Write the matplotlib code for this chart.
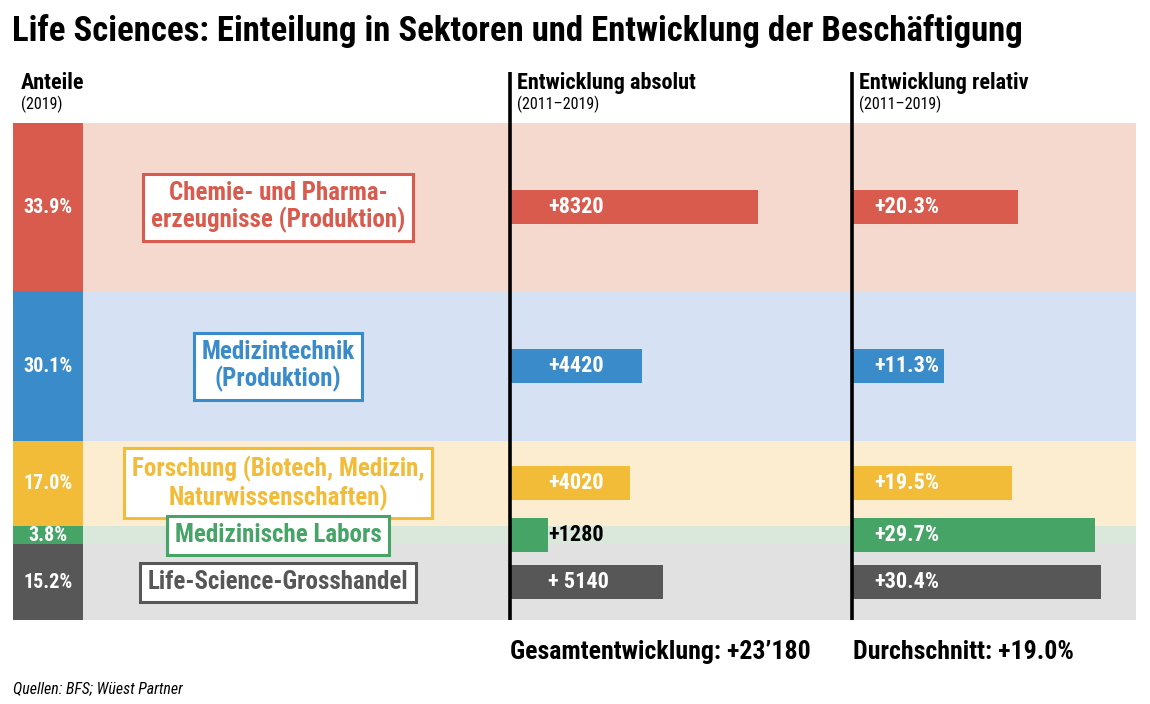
import matplotlib
matplotlib.use("Agg")
import matplotlib.pyplot as plt

plt.rcParams['font.family'] = ['Roboto Condensed', 'Liberation Sans', 'DejaVu Sans']

# ---- data ----
sectors = ["Chemie- und Pharma-\nerzeugnisse (Produktion)",
           "Medizintechnik\n(Produktion)",
           "Forschung (Biotech, Medizin,\nNaturwissenschaften)",
           "Medizinische Labors",
           "Life-Science-Grosshandel"]
shares = [33.9, 30.1, 17.0, 3.8, 15.2]
share_labels = ["33.9%", "30.1%", "17.0%", "3.8%", "15.2%"]
abs_change = [8320, 4420, 4020, 1280, 5140]
abs_labels = ["+8320", "+4420", "+4020", "+1280", "+ 5140"]
rel_change = [20.3, 11.3, 19.5, 29.7, 30.4]
rel_labels = ["+20.3%", "+11.3%", "+19.5%", "+29.7%", "+30.4%"]
total_abs = "Gesamtentwicklung: +23\u2019180"
avg_rel = "Durchschnitt: +19.0%"

colors = ["#D95B4E", "#3A8BC9", "#F2BB38", "#46A466", "#575757"]
bg_colors = ["#F5D9CF", "#D6E2F3", "#FDEDD0", "#DAE8DC", "#E1E1E1"]

W, H = 1150, 704
fig = plt.figure(figsize=(W / 100, H / 100), dpi=100)

top_px, bot_px = 123, 620
def axes_rect(x0, x1):
    return [x0 / W, 1 - bot_px / H, (x1 - x0) / W, (bot_px - top_px) / H]

ax_l = fig.add_axes(axes_rect(13, 510))
ax_a = fig.add_axes(axes_rect(510, 852))
ax_r = fig.add_axes(axes_rect(852, 1136))

# band positions
starts = []
c = 0
for s in shares:
    starts.append(c)
    c += s
centers = [st + s / 2 for st, s in zip(starts, shares)]

bar_h = 34 / ((bot_px - top_px) / 100)  # 34 px in share units

for ax in (ax_l, ax_a, ax_r):
    ax.set_ylim(100, 0)
    for st, s, bc in zip(starts, shares, bg_colors):
        ax.axhspan(st, st + s, color=bc, lw=0, zorder=0)
    for sp in ax.spines.values():
        sp.set_visible(False)
    ax.set_xticks([])
    ax.set_yticks([])
    ax.patch.set_alpha(0)

# left: stacked shares bar
ax_l.set_xlim(0, 497)
ax_l.barh(centers, [70] * len(shares), height=shares, left=0, color=colors, lw=0, zorder=2)
for y, lab in zip(centers, share_labels):
    ax_l.text(35, y, lab, color="white", fontsize=14.5, fontweight="bold",
              ha="center", va="center", zorder=3)
for y, lab, col in zip(centers, sectors, colors):
    ax_l.text(265, y, lab, color=col, fontsize=18, fontweight="bold", ha="center",
              va="center", linespacing=1.1, zorder=4,
              bbox=dict(boxstyle="square,pad=0.3", fc="white", ec=col, lw=2.2))

# absolute
ax_a.set_xlim(0, 342 / 0.0298)
ax_a.barh(centers, abs_change, height=bar_h, color=colors, lw=0, zorder=2)
for y, v, lab in zip(centers, abs_change, abs_labels):
    txtcol = "white" if v > 2500 else "black"
    ax_a.text(38 / 0.0298, y, lab, color=txtcol, fontsize=16, fontweight="bold",
              ha="left", va="center", zorder=3)

# relative
ax_r.set_xlim(0, 284 / 8.185)
ax_r.barh(centers, rel_change, height=bar_h, color=colors, lw=0, zorder=2)
for y, lab in zip(centers, rel_labels):
    ax_r.text(22 / 8.185, y, lab, color="white", fontsize=16, fontweight="bold",
              ha="left", va="center", zorder=3)

# vertical axis lines extending into header
ext = (bot_px - 72) / (bot_px - top_px)
for ax in (ax_a, ax_r):
    ax.plot([0, 0], [0, ext], transform=ax.transAxes, color="black", lw=2.6,
            clip_on=False, zorder=5, solid_capstyle="butt")

# headers
def fx(px):
    return px / W
def fy(py):
    return 1 - py / H

fig.text(fx(12), fy(31), "Life Sciences: Einteilung in Sektoren und Entwicklung der Beschäftigung",
         fontsize=25, fontweight="bold", ha="left", va="center")
for x, t, st in [(21, "Anteile", "(2019)"),
                 (517, "Entwicklung absolut", "(2011\u20132019)"),
                 (859, "Entwicklung relativ", "(2011\u20132019)")]:
    fig.text(fx(x), fy(83), t, fontsize=16, fontweight="bold", ha="left", va="center")
    fig.text(fx(x), fy(104), st, fontsize=11.5, ha="left", va="center")

fig.text(fx(510), fy(652), total_abs, fontsize=18.6, fontweight="bold", ha="left", va="center")
fig.text(fx(853), fy(652), avg_rel, fontsize=18.6, fontweight="bold", ha="left", va="center")
fig.text(fx(13), fy(689), "Quellen: BFS; Wüest Partner", fontsize=11.4, style="italic",
         ha="left", va="center")

fig.savefig("out.png", dpi=100, facecolor="white")
